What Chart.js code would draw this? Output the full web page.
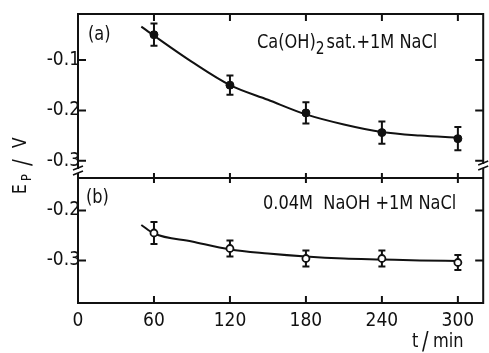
<!DOCTYPE html>
<html>
<head>
<meta charset="utf-8">
<script src="https://cdn.jsdelivr.net/npm/chart.js@4.4.3/dist/chart.umd.min.js"></script>
<style>
  html, body { margin: 0; padding: 0; background: #fff; }
</style>
</head>
<body>
<canvas id="chart" width="489" height="353"></canvas>
<script>
// measured points, t in min, Ep in V
const times   = [60, 120, 180, 240, 300];
const seriesA = [-0.050, -0.150, -0.205, -0.244, -0.256];
const errA    = [0.022, 0.019, 0.021, 0.022, 0.023];
const seriesB = [-0.245, -0.276, -0.296, -0.296, -0.304];
const errB    = [0.022, 0.016, 0.016, 0.016, 0.015];

// hand drawn fit curves
const fitTimes = [50, 60, 90, 120, 150, 180, 210, 240, 270, 300];
const fitA     = [-0.034, -0.052, -0.104, -0.150, -0.179, -0.208, -0.228, -0.243, -0.250, -0.254];
const fitB     = [-0.229, -0.246, -0.262, -0.278, -0.286, -0.292, -0.296, -0.298, -0.300, -0.301];

const xTicks  = [0, 60, 120, 180, 240, 300];
const yTicksA = [-0.1, -0.2, -0.3];
const yTicksB = [-0.2, -0.3];

const INK = '#111';

// pick a narrow face if one is installed
function pickFont() {
  const c = document.createElement('canvas').getContext('2d');
  const probe = 'abcdefghijklmnop0123456789';
  c.font = '20px monospace';
  const base = c.measureText(probe).width;
  for (const f of ['Liberation Sans Narrow', 'DejaVu Sans Condensed', 'Roboto Condensed']) {
    c.font = `20px '${f}', monospace`;
    if (c.measureText(probe).width !== base) return `'${f}', 'Liberation Sans', sans-serif`;
  }
  return "'Liberation Sans', Arial, sans-serif";
}
const FONT = pickFont();
const SQUEEZE = FONT.startsWith("'Liberation Sans'") ? 0.95 : 0.9;

const pts = (xs, ys) => xs.map((x, i) => ({ x, y: ys[i] }));

// draw text squeezed a bit, returns the advance
function text(ctx, s, x, y, size) {
  ctx.save();
  ctx.font = size + 'px ' + FONT;
  ctx.translate(x, y);
  ctx.scale(SQUEEZE, 1);
  ctx.fillText(s, 0, 0);
  const w = ctx.measureText(s).width * SQUEEZE;
  ctx.restore();
  return w;
}

// frame, inward ticks, error bars and the texts
const decor = {
  id: 'decor',
  beforeDatasetsDraw(chart) {
    const { ctx, scales } = chart;
    const bars = (ys, es, sc) => {
      times.forEach((t, i) => {
        const x = scales.x.getPixelForValue(t);
        const y1 = sc.getPixelForValue(ys[i] + es[i]);
        const y2 = sc.getPixelForValue(ys[i] - es[i]);
        ctx.beginPath();
        ctx.moveTo(x, y1); ctx.lineTo(x, y2);
        ctx.moveTo(x - 3.5, y1); ctx.lineTo(x + 3.5, y1);
        ctx.moveTo(x - 3.5, y2); ctx.lineTo(x + 3.5, y2);
        ctx.stroke();
      });
    };
    ctx.save();
    ctx.strokeStyle = INK;
    ctx.lineWidth = 2;
    bars(seriesA, errA, scales.yA);
    bars(seriesB, errB, scales.yB);
    ctx.restore();
  },
  afterDraw(chart) {
    const { ctx, scales, chartArea: ca } = chart;
    const mid = scales.yA.bottom;
    ctx.save();
    ctx.strokeStyle = INK;
    ctx.fillStyle = INK;
    ctx.lineWidth = 2;
    ctx.strokeRect(ca.left, ca.top, ca.right - ca.left, ca.bottom - ca.top);
    ctx.beginPath();
    ctx.moveTo(ca.left, mid); ctx.lineTo(ca.right, mid);
    // x ticks: top, middle (both ways), bottom
    xTicks.slice(1).forEach(t => {
      const x = scales.x.getPixelForValue(t);
      ctx.moveTo(x, ca.top); ctx.lineTo(x, ca.top + 7);
      ctx.moveTo(x, mid - 5); ctx.lineTo(x, mid + 5);
      ctx.moveTo(x, ca.bottom); ctx.lineTo(x, ca.bottom - 7);
    });
    const yt = (vals, sc) => vals.forEach(v => {
      const y = sc.getPixelForValue(v);
      ctx.moveTo(ca.left, y); ctx.lineTo(ca.left + 8, y);
      ctx.moveTo(ca.right, y); ctx.lineTo(ca.right - 8, y);
    });
    yt(yTicksA, scales.yA);
    yt(yTicksB, scales.yB);
    ctx.stroke();

    // axis break marks
    const brk = (x, y) => {
      ctx.save();
      ctx.fillStyle = '#fff';
      ctx.fillRect(x - 4, y - 2, 8, 4);
      ctx.lineWidth = 1.5;
      ctx.beginPath();
      ctx.moveTo(x - 5, y - 1); ctx.lineTo(x + 5, y - 5);
      ctx.moveTo(x - 5, y + 4); ctx.lineTo(x + 5, y);
      ctx.stroke();
      ctx.restore();
    };
    brk(ca.left, mid - 7);
    brk(ca.right, mid - 12);

    // panel labels
    ctx.textBaseline = 'middle';
    ctx.textAlign = 'left';
    text(ctx, '(a)', ca.left + 10, 35, 20);
    text(ctx, '(b)', ca.left + 8, 198, 20);

    let x = 257;
    x += text(ctx, 'Ca(OH)', x, 43, 20);
    x += text(ctx, '2', x, 50, 17) + 2;
    text(ctx, 'sat.+1M NaCl', x, 43, 20);

    text(ctx, '0.04M  NaOH +1M NaCl', 263, 204, 20);

    // x title, tall slash
    ctx.textBaseline = 'alphabetic';
    text(ctx, 't', 412, 347, 20);
    text(ctx, '/', 422, 349, 24);
    text(ctx, 'min', 433, 347, 20);

    // y title Ep / V, read bottom to top
    ctx.translate(26, 194);
    ctx.rotate(-Math.PI / 2);
    text(ctx, 'E', 0, 0, 19);
    text(ctx, 'P', 13, 5, 14);
    text(ctx, '/', 28, 4, 25);
    text(ctx, 'V', 46, 0, 19);
    ctx.restore();
  }
};

const yScale = (min, max, ticks, weight) => ({
  type: 'linear',
  position: 'left',
  stack: 'ep',
  stackWeight: weight,
  min, max,
  afterBuildTicks: s => { s.ticks = ticks.map(v => ({ value: v })); },
  afterFit: s => { s.width = 78; },
  grid: { display: false, drawTicks: false },
  border: { display: false },
  ticks: { color: INK, padding: -2, font: { family: FONT, size: 19 }, callback: v => v.toFixed(1) }
});

new Chart(document.getElementById('chart'), {
  type: 'scatter',
  data: {
    datasets: [
      { type: 'line', data: pts(fitTimes, fitA), yAxisID: 'yA', borderColor: INK, borderWidth: 2, pointRadius: 0, cubicInterpolationMode: 'monotone', order: 2 },
      { type: 'line', data: pts(fitTimes, fitB), yAxisID: 'yB', borderColor: INK, borderWidth: 2, pointRadius: 0, cubicInterpolationMode: 'monotone', order: 2 },
      { data: pts(times, seriesA), yAxisID: 'yA', pointRadius: 4, backgroundColor: INK, borderColor: INK, borderWidth: 1, order: 1 },
      { data: pts(times, seriesB), yAxisID: 'yB', pointRadius: 3.5, backgroundColor: '#fff', borderColor: INK, borderWidth: 1.8, order: 1 }
    ]
  },
  options: {
    responsive: false,
    animation: false,
    layout: { padding: { top: 14, right: 3, left: 0, bottom: 0 } },
    plugins: { legend: { display: false }, tooltip: { enabled: false } },
    scales: {
      x: {
        type: 'linear',
        min: 0, max: 320,
        afterBuildTicks: s => { s.ticks = xTicks.map(v => ({ value: v })); },
        afterFit: s => { s.height = 50; },
        grid: { display: false, drawTicks: false },
        border: { display: false },
        ticks: { color: INK, padding: 7, maxRotation: 0, font: { family: FONT, size: 19 } }
      },
      // the stack is filled bottom-up, so the lower panel comes first
      yB: yScale(-0.385, -0.135, yTicksB, 125),
      yA: yScale(-0.334, -0.009, yTicksA, 164)
    }
  },
  plugins: [decor]
});
</script>
</body>
</html>
